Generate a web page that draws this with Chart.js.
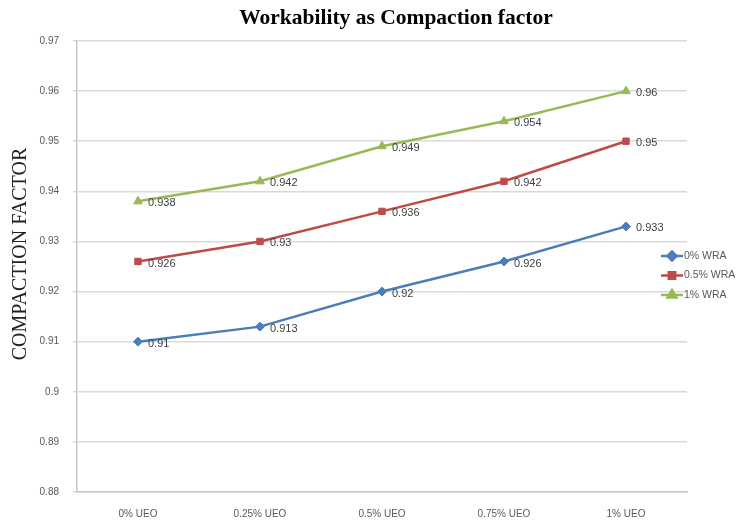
<!DOCTYPE html>
<html>
<head>
<meta charset="utf-8">
<script src="https://cdn.jsdelivr.net/npm/chart.js@4/dist/chart.umd.min.js"></script>
<style>
  html, body { margin: 0; padding: 0; background: #fff; }
  #wrap { width: 738px; height: 520px; }
</style>
</head>
<body>
<div id="wrap"><canvas id="cfChart"></canvas></div>
<script>
const categories = ["0% UEO", "0.25% UEO", "0.5% UEO", "0.75% UEO", "1% UEO"];
const seriesNames = ["0% WRA", "0.5% WRA", "1% WRA"];
const wra0 = [0.91, 0.913, 0.92, 0.926, 0.933];
const wra05 = [0.926, 0.93, 0.936, 0.942, 0.95];
const wra1 = [0.938, 0.942, 0.949, 0.954, 0.96];
const yTicks = [0.88, 0.89, 0.9, 0.91, 0.92, 0.93, 0.94, 0.95, 0.96, 0.97];
const chartTitle = 'Workability as Compaction factor';
const yTitle = 'COMPACTION FACTOR';

const colors = ['#4A7EBB', '#BE4B48', '#98B954'];
const markers = ['rectRot', 'rect', 'triangle'];
const markerSize = [4.5, 4.5, 5];

const ctx = document.getElementById("cfChart");

// value labels right of each point
const pointLabels = {
    id: 'pointLabels',
    afterDatasetsDraw(chart) {
        const c = chart.ctx;
        c.save();
        c.font = '11px "Liberation Sans", Arial, sans-serif';
        c.fillStyle = '#404040';
        c.textBaseline = 'middle';
        chart.data.datasets.forEach((ds, i) => {
            chart.getDatasetMeta(i).data.forEach((pt, j) => {
                c.fillText(String(ds.data[j]), pt.x + 10, pt.y + 2);
            });
        });
        c.restore();
    }
};

// title + rotated axis title, placed like the original
const titles = {
    id: 'titles',
    afterDraw(chart) {
        const c = chart.ctx;
        c.save();
        c.fillStyle = '#000';
        c.textAlign = 'center';
        c.textBaseline = 'alphabetic';
        c.font = 'bold 21.5px "Liberation Serif", "Times New Roman", serif';
        c.fillText(chartTitle, 396, 24);
        c.translate(21, 254);
        c.rotate(-Math.PI / 2);
        c.textBaseline = 'middle';
        c.fillStyle = '#222';
        c.font = '20px "Liberation Serif", "Times New Roman", serif';
        c.fillText(yTitle, 0, 0);
        c.restore();
    }
};

// excel style legend at the right
const sideLegend = {
    id: 'sideLegend',
    afterDraw(chart) {
        const c = chart.ctx;
        const x0 = 661, y0 = 256, gap = 19.5;
        c.save();
        c.font = '10.5px "Liberation Sans", Arial, sans-serif';
        c.textBaseline = 'middle';
        chart.data.datasets.forEach((ds, i) => {
            const y = y0 + i * gap;
            c.strokeStyle = ds.borderColor;
            c.lineWidth = 2.5;
            c.beginPath();
            c.moveTo(x0, y);
            c.lineTo(x0 + 22, y);
            c.stroke();
            c.fillStyle = ds.borderColor;
            Chart.helpers.drawPoint(c, {pointStyle: ds.pointStyle, radius: ds.pointRadius, borderWidth: 1}, x0 + 11, y);
            c.fillStyle = '#595959';
            c.fillText(ds.label, x0 + 23, y);
        });
        c.restore();
    }
};

new Chart(ctx, {
    type: 'line',
    data: {
        labels: categories,
        datasets: [wra0, wra05, wra1].map((vals, i) => ({
            label: seriesNames[i],
            data: vals,
            borderColor: colors[i],
            backgroundColor: colors[i],
            borderWidth: 2.5,
            pointStyle: markers[i],
            pointRadius: markerSize[i],
            pointBorderWidth: 1,
            tension: 0
        }))
    },
    options: {
        responsive: true,
        maintainAspectRatio: false,
        animation: false,
        layout: { padding: { left: 0, right: 51, top: 41, bottom: 0 } },
        plugins: {
            legend: { display: false },
            tooltip: { enabled: false },
            title: { display: false }
        },
        scales: {
            x: {
                offset: true,
                grid: { display: false },
                border: { display: true, color: '#c8c8c8', width: 1.5 },
                ticks: {
                    color: '#595959',
                    font: { family: '"Liberation Sans", Arial, sans-serif', size: 10 },
                    padding: 8,
                    maxRotation: 0
                },
                afterFit(axis) { axis.height = 28; }
            },
            y: {
                min: 0.88,
                max: 0.97,
                afterBuildTicks(axis) { axis.ticks = yTicks.map(v => ({ value: v })); },
                grid: { color: '#d9d9d9', lineWidth: 1.5, tickLength: 4 },
                border: { display: true, color: '#c8c8c8', width: 1.5 },
                ticks: {
                    color: '#595959',
                    font: { family: '"Liberation Sans", Arial, sans-serif', size: 10 },
                    padding: 14,
                    callback: (v) => String(Math.round(v * 1000) / 1000)
                },
                afterFit(axis) { axis.width = 77; }
            }
        }
    },
    plugins: [pointLabels, titles, sideLegend]
});
</script>
</body>
</html>
